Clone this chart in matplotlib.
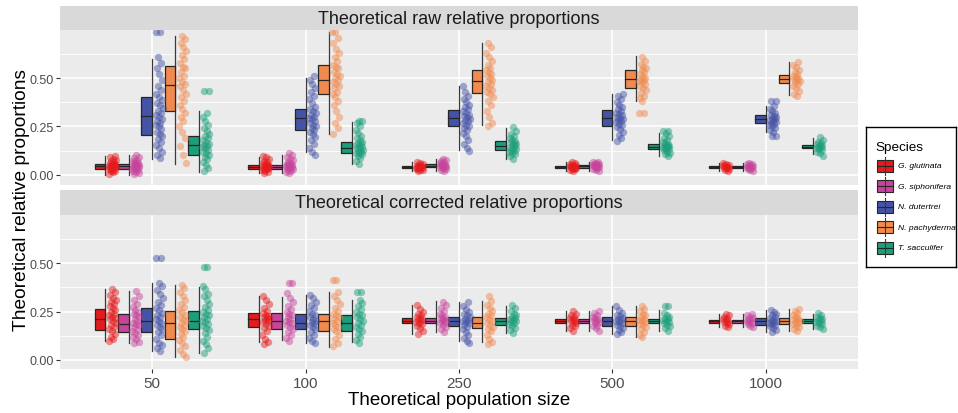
import matplotlib
matplotlib.use("Agg")
import matplotlib.pyplot as plt
from matplotlib.patches import Rectangle
import numpy as np

plt.rcParams['font.family'] = ['Liberation Sans', 'DejaVu Sans']

categories = ["50", "100", "250", "500", "1000"]
species = ["G. glutinata", "G. siphonifera", "N. dutertrei", "N. pachyderma", "T. sacculifer"]
colors = ["#E41A1C", "#C6449B", "#4553A6", "#F08A4E", "#1B9E7A"]
panel_titles = ["Theoretical raw relative proportions", "Theoretical corrected relative proportions"]
x_title = "Theoretical population size"
y_title = "Theoretical relative proportions"
legend_title = "Species"

# box statistics per category: [whisker low, q1, median, q3, whisker high]
raw_box = {
    "G. glutinata":   [[0.0, 0.03, 0.045, 0.058, 0.098], [0.01, 0.031, 0.04, 0.049, 0.09], [0.019, 0.034, 0.04, 0.046, 0.066], [0.02, 0.035, 0.04, 0.045, 0.065], [0.021, 0.036, 0.041, 0.046, 0.06]],
    "G. siphonifera": [[0.0, 0.028, 0.044, 0.057, 0.1], [0.01, 0.032, 0.042, 0.051, 0.1], [0.019, 0.038, 0.047, 0.056, 0.083], [0.02, 0.037, 0.044, 0.051, 0.066], [0.021, 0.036, 0.041, 0.046, 0.06]],
    "N. dutertrei":   [[0.08, 0.205, 0.302, 0.40, 0.60], [0.117, 0.23, 0.295, 0.341, 0.502], [0.129, 0.25, 0.295, 0.336, 0.457], [0.178, 0.25, 0.293, 0.333, 0.419], [0.219, 0.266, 0.288, 0.309, 0.354]],
    "N. pachyderma":  [[0.055, 0.328, 0.466, 0.561, 0.72], [0.212, 0.416, 0.488, 0.566, 0.738], [0.259, 0.423, 0.483, 0.543, 0.681], [0.381, 0.45, 0.493, 0.54, 0.612], [0.412, 0.474, 0.495, 0.517, 0.581]],
    "T. sacculifer":  [[0.016, 0.103, 0.152, 0.202, 0.331], [0.057, 0.112, 0.14, 0.169, 0.273], [0.083, 0.126, 0.148, 0.173, 0.242], [0.095, 0.133, 0.145, 0.157, 0.216], [0.105, 0.138, 0.146, 0.155, 0.19]],
}
raw_pts = {
    "G. glutinata": [
        [0.005, 0.012, 0.018, 0.022, 0.026, 0.03, 0.032, 0.035, 0.038, 0.04, 0.042, 0.044, 0.045, 0.047, 0.05, 0.052, 0.055, 0.058, 0.062, 0.066, 0.07, 0.076, 0.083, 0.09, 0.098],
        [0.01, 0.015, 0.02, 0.025, 0.028, 0.031, 0.034, 0.036, 0.038, 0.04, 0.042, 0.044, 0.046, 0.049, 0.052, 0.056, 0.06, 0.065, 0.072, 0.08, 0.09, 0.095],
        [0.019, 0.023, 0.027, 0.03, 0.033, 0.035, 0.037, 0.039, 0.04, 0.042, 0.044, 0.046, 0.049, 0.052, 0.056, 0.061, 0.066],
        [0.02, 0.025, 0.029, 0.032, 0.034, 0.036, 0.038, 0.04, 0.041, 0.043, 0.045, 0.047, 0.05, 0.053, 0.057, 0.062, 0.066],
        [0.022, 0.027, 0.031, 0.034, 0.037, 0.039, 0.041, 0.043, 0.045, 0.048, 0.051, 0.055, 0.06]],
    "G. siphonifera": [
        [0.004, 0.01, 0.016, 0.021, 0.025, 0.029, 0.032, 0.036, 0.039, 0.041, 0.043, 0.046, 0.048, 0.05, 0.053, 0.056, 0.059, 0.063, 0.067, 0.072, 0.078, 0.085, 0.092, 0.1],
        [0.01, 0.016, 0.022, 0.027, 0.03, 0.033, 0.036, 0.039, 0.041, 0.043, 0.045, 0.048, 0.05, 0.053, 0.057, 0.062, 0.068, 0.075, 0.083, 0.092, 0.1, 0.11],
        [0.02, 0.026, 0.031, 0.035, 0.038, 0.041, 0.044, 0.046, 0.048, 0.05, 0.053, 0.056, 0.06, 0.065, 0.07, 0.076, 0.083],
        [0.021, 0.027, 0.031, 0.035, 0.038, 0.04, 0.042, 0.044, 0.046, 0.048, 0.05, 0.052, 0.055, 0.058, 0.061, 0.064, 0.067],
        [0.022, 0.026, 0.03, 0.034, 0.037, 0.04, 0.042, 0.044, 0.047, 0.05, 0.054, 0.058, 0.061]],
    "N. dutertrei": [
        [0.085, 0.10, 0.12, 0.14, 0.155, 0.17, 0.185, 0.20, 0.21, 0.22, 0.235, 0.25, 0.26, 0.27, 0.28, 0.29, 0.30, 0.31, 0.32, 0.33, 0.345, 0.36, 0.37, 0.385, 0.40, 0.42, 0.44, 0.46, 0.49, 0.52, 0.55, 0.58, 0.61, 0.74, 0.74],
        [0.10, 0.12, 0.14, 0.16, 0.18, 0.195, 0.21, 0.22, 0.23, 0.24, 0.25, 0.26, 0.27, 0.28, 0.29, 0.295, 0.30, 0.31, 0.32, 0.33, 0.34, 0.35, 0.37, 0.39, 0.41, 0.43, 0.45, 0.47, 0.49, 0.51],
        [0.125, 0.14, 0.16, 0.18, 0.20, 0.215, 0.23, 0.24, 0.25, 0.26, 0.27, 0.28, 0.285, 0.29, 0.30, 0.305, 0.31, 0.32, 0.33, 0.34, 0.35, 0.36, 0.375, 0.39, 0.41, 0.43, 0.46],
        [0.175, 0.19, 0.205, 0.22, 0.235, 0.245, 0.255, 0.265, 0.275, 0.28, 0.285, 0.29, 0.295, 0.30, 0.31, 0.315, 0.32, 0.33, 0.34, 0.35, 0.36, 0.375, 0.39, 0.405, 0.42],
        [0.202, 0.202, 0.22, 0.23, 0.24, 0.25, 0.26, 0.265, 0.27, 0.275, 0.28, 0.285, 0.29, 0.295, 0.30, 0.305, 0.31, 0.32, 0.33, 0.34, 0.355, 0.383, 0.383]],
    "N. pachyderma": [
        [0.06, 0.10, 0.15, 0.19, 0.22, 0.25, 0.28, 0.30, 0.32, 0.34, 0.36, 0.38, 0.40, 0.42, 0.44, 0.46, 0.47, 0.48, 0.50, 0.51, 0.53, 0.55, 0.56, 0.58, 0.60, 0.62, 0.64, 0.66, 0.68, 0.70, 0.72],
        [0.21, 0.24, 0.27, 0.30, 0.33, 0.36, 0.38, 0.40, 0.42, 0.43, 0.45, 0.46, 0.47, 0.48, 0.49, 0.50, 0.51, 0.52, 0.53, 0.55, 0.56, 0.57, 0.59, 0.61, 0.63, 0.65, 0.68, 0.71, 0.74, 0.74],
        [0.25, 0.27, 0.30, 0.33, 0.36, 0.38, 0.40, 0.42, 0.43, 0.44, 0.45, 0.46, 0.47, 0.48, 0.49, 0.50, 0.51, 0.52, 0.53, 0.54, 0.55, 0.57, 0.59, 0.61, 0.63, 0.66, 0.68],
        [0.38, 0.395, 0.41, 0.425, 0.44, 0.45, 0.46, 0.47, 0.48, 0.485, 0.49, 0.495, 0.50, 0.51, 0.52, 0.53, 0.54, 0.55, 0.56, 0.575, 0.59, 0.61, 0.319, 0.319],
        [0.41, 0.42, 0.435, 0.45, 0.46, 0.47, 0.48, 0.485, 0.49, 0.495, 0.50, 0.505, 0.51, 0.52, 0.53, 0.54, 0.555, 0.57, 0.585]],
    "T. sacculifer": [
        [0.02, 0.035, 0.05, 0.065, 0.08, 0.09, 0.10, 0.11, 0.12, 0.13, 0.14, 0.145, 0.15, 0.155, 0.16, 0.17, 0.18, 0.19, 0.20, 0.21, 0.225, 0.24, 0.26, 0.28, 0.30, 0.32, 0.435, 0.435],
        [0.055, 0.07, 0.085, 0.095, 0.105, 0.11, 0.115, 0.12, 0.125, 0.13, 0.135, 0.14, 0.145, 0.15, 0.155, 0.16, 0.165, 0.17, 0.18, 0.19, 0.20, 0.215, 0.23, 0.25, 0.27, 0.28, 0.28],
        [0.08, 0.095, 0.105, 0.115, 0.12, 0.125, 0.13, 0.135, 0.14, 0.145, 0.15, 0.155, 0.16, 0.165, 0.17, 0.175, 0.18, 0.19, 0.20, 0.21, 0.225, 0.245],
        [0.095, 0.105, 0.113, 0.12, 0.126, 0.131, 0.135, 0.139, 0.142, 0.145, 0.148, 0.151, 0.155, 0.159, 0.164, 0.17, 0.178, 0.188, 0.2, 0.215, 0.225, 0.225],
        [0.098, 0.11, 0.12, 0.127, 0.133, 0.138, 0.142, 0.146, 0.15, 0.154, 0.158, 0.164, 0.172, 0.182, 0.193]],
}

cor_box = {
    "G. glutinata":   [[0.10, 0.157, 0.214, 0.265, 0.367], [0.091, 0.172, 0.21, 0.241, 0.333], [0.134, 0.19, 0.203, 0.217, 0.286], [0.152, 0.19, 0.2, 0.21, 0.255], [0.169, 0.193, 0.2, 0.207, 0.238]],
    "G. siphonifera": [[0.086, 0.143, 0.186, 0.238, 0.355], [0.103, 0.162, 0.20, 0.241, 0.324], [0.143, 0.19, 0.203, 0.217, 0.303], [0.152, 0.19, 0.2, 0.21, 0.255], [0.168, 0.192, 0.2, 0.208, 0.24]],
    "N. dutertrei":   [[0.045, 0.146, 0.20, 0.267, 0.397], [0.086, 0.16, 0.193, 0.238, 0.336], [0.10, 0.177, 0.20, 0.224, 0.298], [0.134, 0.177, 0.2, 0.224, 0.281], [0.145, 0.181, 0.2, 0.216, 0.26]],
    "N. pachyderma":  [[0.017, 0.11, 0.191, 0.253, 0.39], [0.069, 0.152, 0.203, 0.238, 0.35], [0.091, 0.165, 0.19, 0.221, 0.303], [0.117, 0.177, 0.2, 0.224, 0.281], [0.15, 0.185, 0.2, 0.215, 0.265]],
    "T. sacculifer":  [[0.035, 0.159, 0.203, 0.252, 0.379], [0.091, 0.152, 0.191, 0.233, 0.31], [0.138, 0.183, 0.203, 0.217, 0.281], [0.15, 0.19, 0.2, 0.21, 0.26], [0.16, 0.19, 0.2, 0.21, 0.24]],
}
cor_pts = {
    "G. glutinata": [
        [0.10, 0.11, 0.12, 0.135, 0.15, 0.16, 0.17, 0.18, 0.19, 0.20, 0.21, 0.215, 0.22, 0.23, 0.24, 0.25, 0.26, 0.27, 0.28, 0.29, 0.30, 0.31, 0.32, 0.335, 0.35, 0.365],
        [0.08, 0.095, 0.11, 0.13, 0.15, 0.165, 0.175, 0.185, 0.195, 0.20, 0.205, 0.21, 0.215, 0.22, 0.225, 0.235, 0.245, 0.255, 0.27, 0.29, 0.31, 0.333],
        [0.135, 0.15, 0.165, 0.175, 0.185, 0.19, 0.195, 0.2, 0.205, 0.21, 0.215, 0.22, 0.23, 0.24, 0.25, 0.265, 0.285],
        [0.152, 0.165, 0.175, 0.183, 0.19, 0.195, 0.2, 0.205, 0.21, 0.215, 0.222, 0.23, 0.24, 0.255],
        [0.17, 0.178, 0.185, 0.19, 0.195, 0.2, 0.205, 0.21, 0.216, 0.223, 0.23, 0.238]],
    "G. siphonifera": [
        [0.085, 0.095, 0.11, 0.12, 0.13, 0.14, 0.15, 0.16, 0.17, 0.18, 0.185, 0.19, 0.20, 0.21, 0.22, 0.23, 0.24, 0.25, 0.26, 0.275, 0.29, 0.31, 0.33, 0.355],
        [0.10, 0.115, 0.13, 0.145, 0.16, 0.17, 0.18, 0.19, 0.195, 0.20, 0.21, 0.22, 0.23, 0.24, 0.25, 0.265, 0.28, 0.30, 0.32, 0.346, 0.398, 0.398],
        [0.145, 0.16, 0.17, 0.18, 0.19, 0.195, 0.2, 0.205, 0.21, 0.215, 0.22, 0.23, 0.24, 0.255, 0.27, 0.285, 0.30],
        [0.152, 0.163, 0.173, 0.182, 0.189, 0.195, 0.2, 0.205, 0.211, 0.217, 0.224, 0.232, 0.242, 0.255],
        [0.168, 0.176, 0.184, 0.19, 0.195, 0.2, 0.205, 0.21, 0.216, 0.223, 0.231, 0.24]],
    "N. dutertrei": [
        [0.045, 0.06, 0.075, 0.09, 0.11, 0.13, 0.145, 0.16, 0.17, 0.18, 0.19, 0.20, 0.21, 0.22, 0.23, 0.245, 0.26, 0.27, 0.285, 0.30, 0.32, 0.34, 0.36, 0.38, 0.40, 0.526, 0.526],
        [0.085, 0.10, 0.115, 0.13, 0.145, 0.16, 0.17, 0.18, 0.19, 0.195, 0.20, 0.21, 0.22, 0.23, 0.24, 0.255, 0.27, 0.285, 0.30, 0.32, 0.336],
        [0.087, 0.10, 0.115, 0.13, 0.145, 0.16, 0.17, 0.18, 0.19, 0.195, 0.20, 0.205, 0.21, 0.22, 0.23, 0.24, 0.25, 0.265, 0.28, 0.30],
        [0.134, 0.145, 0.155, 0.165, 0.175, 0.183, 0.19, 0.195, 0.2, 0.205, 0.21, 0.218, 0.226, 0.235, 0.245, 0.26, 0.28],
        [0.145, 0.155, 0.165, 0.173, 0.18, 0.186, 0.192, 0.197, 0.2, 0.204, 0.209, 0.215, 0.222, 0.23, 0.24, 0.25, 0.26]],
    "N. pachyderma": [
        [0.015, 0.03, 0.05, 0.07, 0.09, 0.105, 0.12, 0.135, 0.15, 0.16, 0.17, 0.18, 0.19, 0.20, 0.21, 0.22, 0.235, 0.25, 0.26, 0.275, 0.29, 0.31, 0.33, 0.35, 0.37, 0.39],
        [0.07, 0.09, 0.11, 0.13, 0.15, 0.16, 0.17, 0.18, 0.19, 0.20, 0.21, 0.22, 0.23, 0.24, 0.255, 0.27, 0.29, 0.31, 0.33, 0.35, 0.415, 0.415],
        [0.08, 0.095, 0.11, 0.13, 0.15, 0.16, 0.17, 0.18, 0.19, 0.20, 0.21, 0.22, 0.23, 0.24, 0.255, 0.27, 0.285, 0.305, 0.33],
        [0.117, 0.13, 0.145, 0.158, 0.17, 0.18, 0.188, 0.195, 0.2, 0.205, 0.212, 0.22, 0.23, 0.24, 0.252, 0.265, 0.281],
        [0.152, 0.162, 0.17, 0.178, 0.185, 0.19, 0.195, 0.2, 0.205, 0.21, 0.216, 0.223, 0.232, 0.242, 0.253, 0.265]],
    "T. sacculifer": [
        [0.035, 0.06, 0.08, 0.10, 0.12, 0.14, 0.155, 0.165, 0.175, 0.185, 0.195, 0.20, 0.21, 0.22, 0.23, 0.24, 0.25, 0.26, 0.275, 0.29, 0.31, 0.33, 0.34, 0.367, 0.38, 0.483, 0.483],
        [0.09, 0.105, 0.12, 0.135, 0.15, 0.16, 0.17, 0.18, 0.19, 0.20, 0.21, 0.22, 0.23, 0.24, 0.25, 0.265, 0.28, 0.295, 0.31, 0.35, 0.35],
        [0.14, 0.155, 0.165, 0.175, 0.185, 0.19, 0.195, 0.2, 0.205, 0.21, 0.215, 0.22, 0.23, 0.24, 0.255, 0.27, 0.285],
        [0.152, 0.165, 0.175, 0.183, 0.19, 0.195, 0.2, 0.205, 0.21, 0.216, 0.224, 0.233, 0.245, 0.28, 0.28],
        [0.16, 0.17, 0.178, 0.185, 0.19, 0.195, 0.2, 0.205, 0.21, 0.216, 0.223, 0.232, 0.243]],
}

y_ticks = [0.0, 0.25, 0.5]
y_ticklabels = ["0.00", "0.25", "0.50"]
y_minor = [0.125, 0.375, 0.625]

W, H = 958, 414
fig = plt.figure(figsize=(W / 100, H / 100), dpi=100)
fig.patch.set_facecolor("white")


def px_axes(x0, y0, x1, y1):
    return fig.add_axes([x0 / W, 1 - y1 / H, (x1 - x0) / W, (y1 - y0) / H])


BOX_W = 0.07
DODGE = 0.152


def draw_panel(ax, box, pts, ylim, show_x):
    ax.set_facecolor("#EBEBEB")
    for s in ax.spines.values():
        s.set_visible(False)
    ax.set_xlim(-0.6, 4.6)
    ax.set_ylim(*ylim)
    for y in y_minor:
        ax.axhline(y, color="white", lw=0.6, zorder=0)
    for y in y_ticks:
        ax.axhline(y, color="white", lw=1.2, zorder=0)
    for ci in range(len(categories)):
        ax.axvline(ci, color="white", lw=1.2, zorder=0)
    for si, sp in enumerate(species):
        off = (si - 2) * DODGE
        for ci in range(len(categories)):
            pos = ci + off
            lo, q1, med, q3, hi = box[sp][ci]
            ax.plot([pos, pos], [lo, hi], color="#3a3a3a", lw=0.9, zorder=2)
            ax.add_patch(Rectangle((pos - BOX_W, q1), BOX_W, q3 - q1,
                                   facecolor=colors[si], edgecolor="#262626", lw=0.9, zorder=3))
            ax.plot([pos - BOX_W, pos], [med, med], color="#262626", lw=0.9, zorder=4)
            vals = np.array(pts[sp][ci])
            n = len(vals)
            jit = 0.022 + 0.048 * ((np.arange(n) * 0.618034 + 0.31 * si + 0.17 * ci) % 1.0)
            ax.scatter(pos + jit, vals, s=28, color=colors[si], alpha=0.48, lw=0, zorder=5)
    ax.set_yticks(y_ticks)
    ax.set_yticklabels(y_ticklabels)
    ax.tick_params(axis="y", length=3, width=0.8, color="#333333", labelsize=9,
                   labelcolor="#4D4D4D", pad=1.5)
    ax.set_xticks(range(len(categories)))
    if show_x:
        ax.set_xticklabels(categories)
        ax.tick_params(axis="x", length=3, width=0.8, color="#333333", labelsize=11,
                       labelcolor="#4D4D4D", pad=2)
    else:
        ax.tick_params(axis="x", length=0, labelbottom=False)


def draw_strip(ax, text):
    ax.set_facecolor("#D9D9D9")
    for s in ax.spines.values():
        s.set_visible(False)
    ax.set_xticks([])
    ax.set_yticks([])
    ax.text(0.5, 0.5, text, ha="center", va="center", fontsize=13, color="#1A1A1A",
            transform=ax.transAxes)


s1 = px_axes(60, 7, 858, 31)
a1 = px_axes(60, 31, 858, 186)
s2 = px_axes(60, 191, 858, 216)
a2 = px_axes(60, 216, 858, 370)

draw_strip(s1, panel_titles[0])
draw_strip(s2, panel_titles[1])
draw_panel(a1, raw_box, raw_pts, (-0.053, 0.749), False)
draw_panel(a2, cor_box, cor_pts, (-0.047, 0.75), True)

fig.text(459 / W, 1 - 401 / H, x_title, ha="center", va="center", fontsize=13.5, color="black")
fig.text(22 / W, 1 - 200 / H, y_title, ha="center", va="center", rotation=90, fontsize=13.8,
         color="black")

# legend
lg = px_axes(866, 128, 956, 268)
lg.set_xlim(0, 90)
lg.set_ylim(140, 0)
lg.set_xticks([])
lg.set_yticks([])
lg.set_facecolor("white")
for s in lg.spines.values():
    s.set_color("black")
    s.set_linewidth(1.0)
lg.text(9, 20, legend_title, ha="left", va="center", fontsize=9.7, color="black")
for i, sp in enumerate(species):
    yc = 38.5 + 20.6 * i
    lg.plot([19, 19], [yc - 9, yc + 9], color="#3a3a3a", lw=0.8)
    lg.add_patch(Rectangle((11, yc - 6), 16, 12, facecolor=colors[i], edgecolor="#262626", lw=0.8))
    lg.plot([11, 27], [yc, yc], color="#262626", lw=0.8)
    lg.text(32, yc, sp, ha="left", va="center", fontsize=6.1, style="italic", color="black")

fig.savefig("out.png", dpi=100, facecolor="white")
